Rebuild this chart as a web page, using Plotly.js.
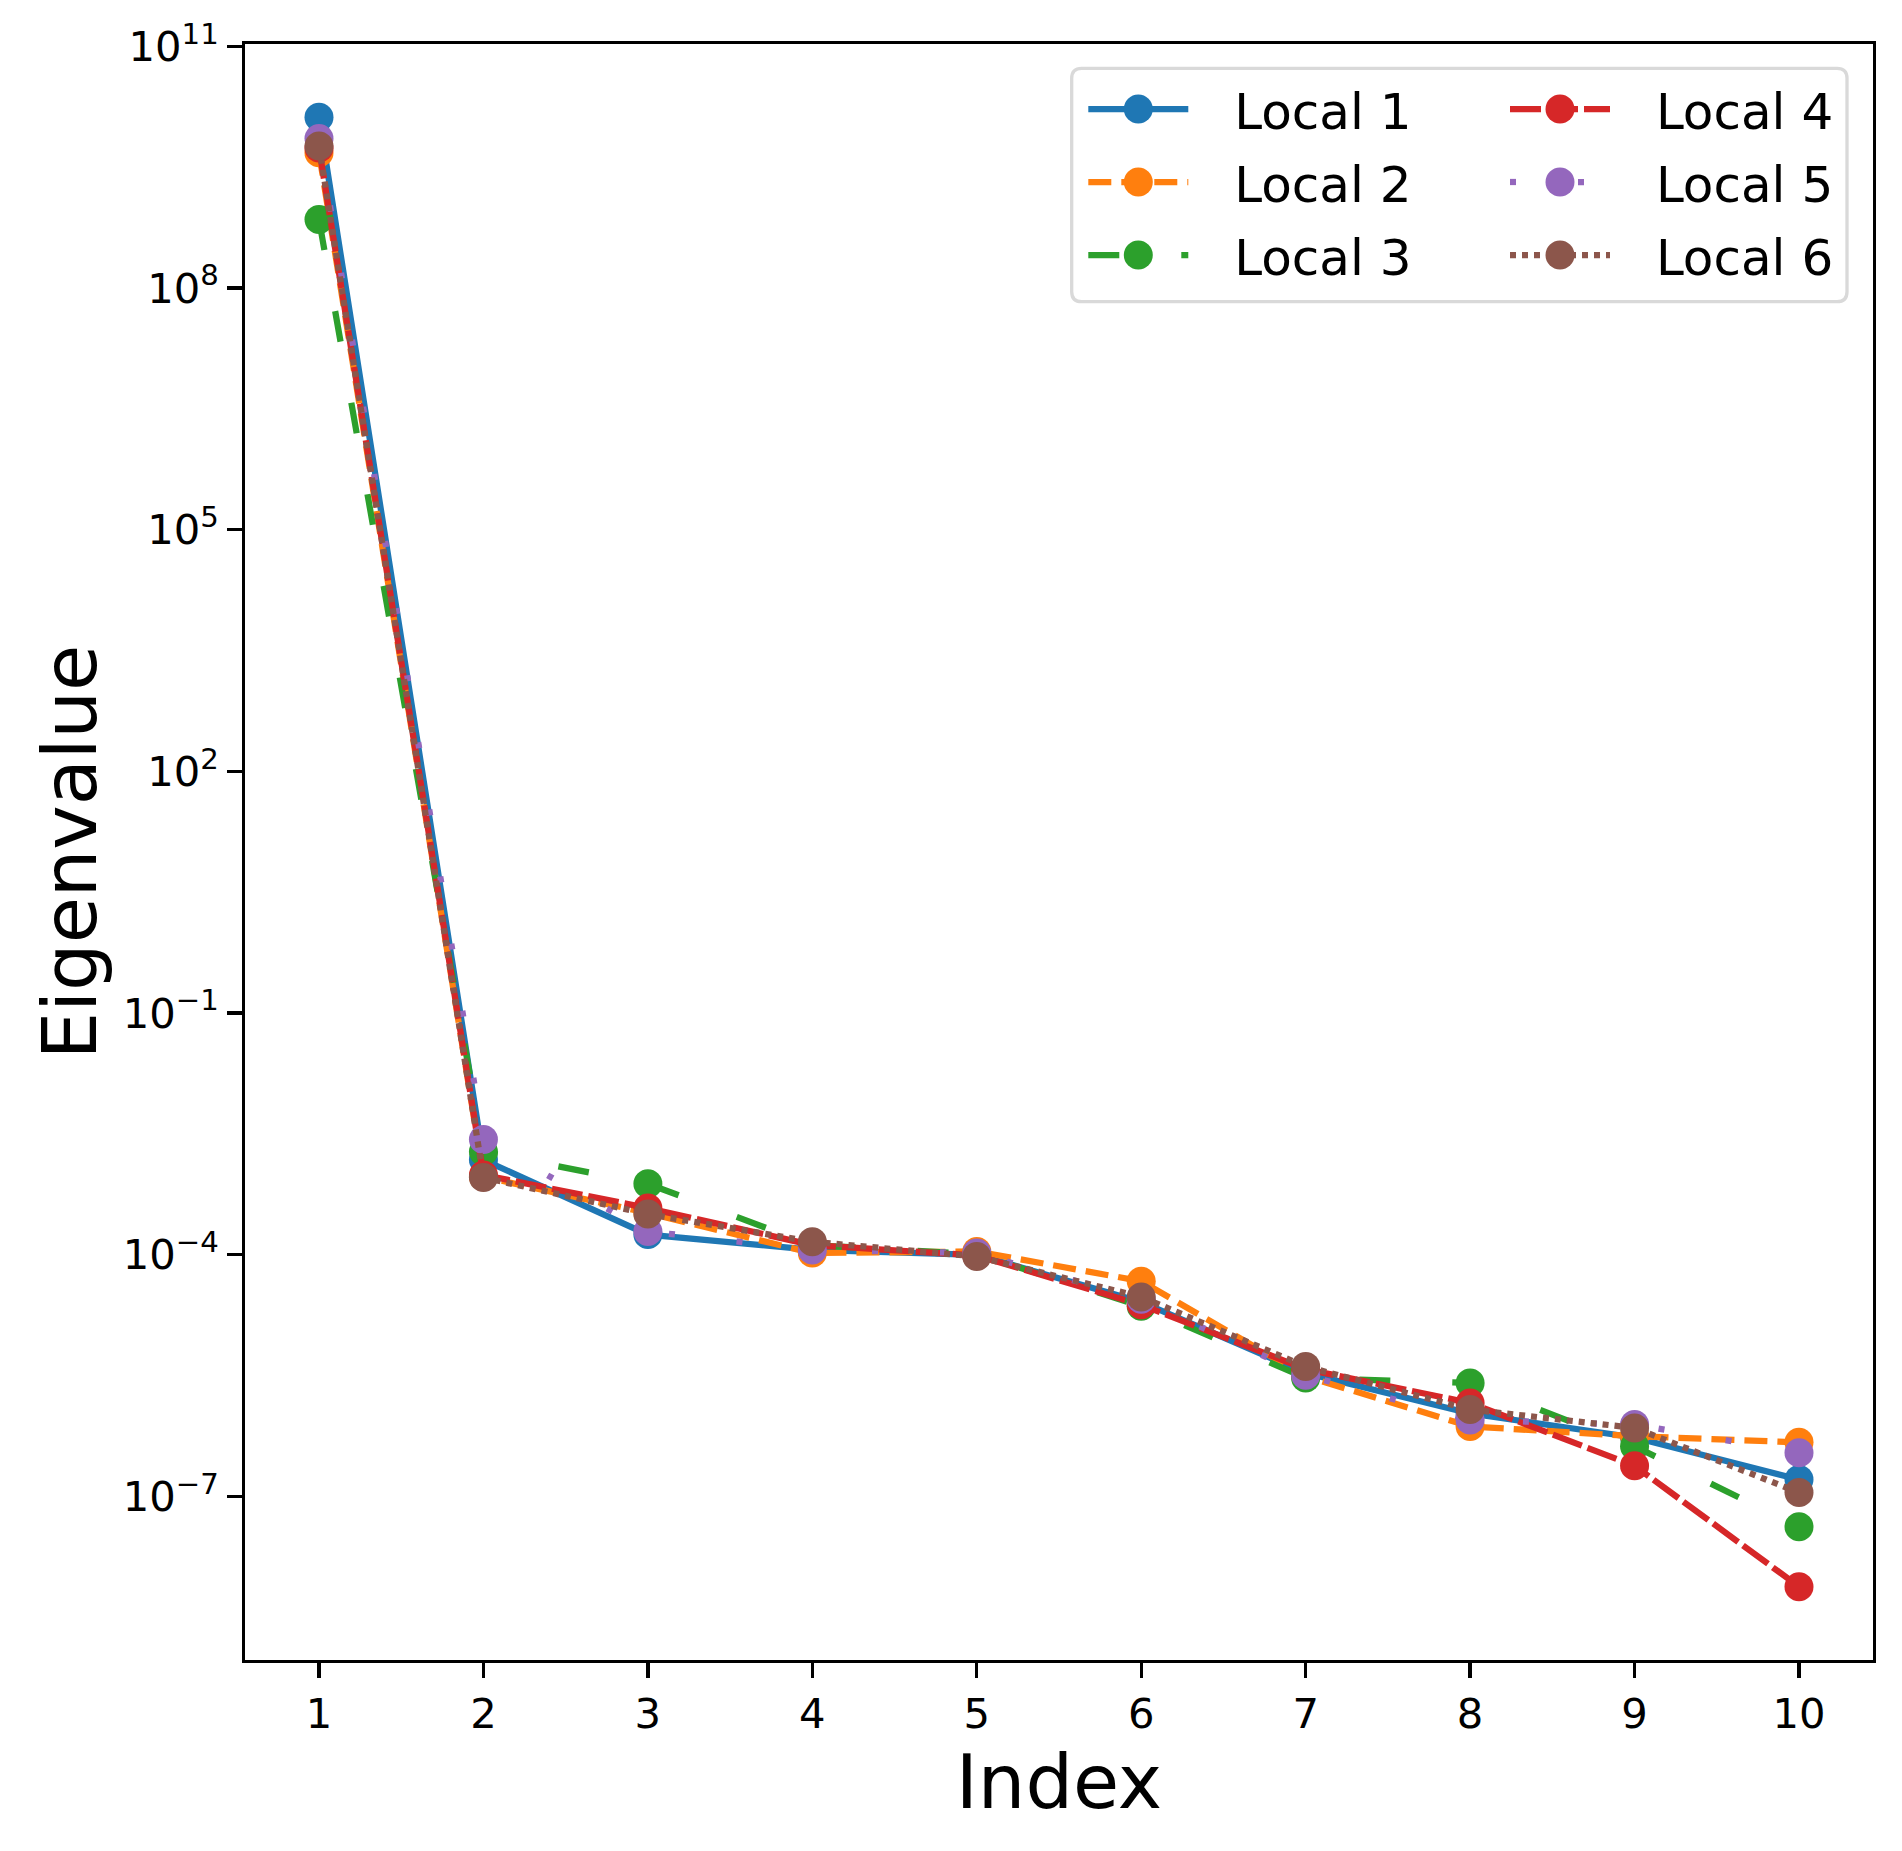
<!DOCTYPE html>
<html>
<head>
<meta charset="utf-8">
<script src="https://cdn.plot.ly/plotly-3.0.1.min.js"></script>
<style>
  html, body { margin: 0; padding: 0; background: #ffffff; }
  #chart { width: 1902px; height: 1851px; }
</style>
</head>
<body>
<div id="chart"></div>
<script>
// ---- data ----
const indices = [1, 2, 3, 4, 5, 6, 7, 8, 9, 10];
const seriesNames = ["Local 1", "Local 2", "Local 3", "Local 4", "Local 5", "Local 6"];
const local1 = [1.32e10, 1.51e-3, 1.78e-4, 1.15e-4, 1.00e-4, 2.6e-5, 3.4e-6, 1.07e-6, 5.4e-7, 1.62e-7];
const local2 = [4.8e9, 9.3e-4, 3.3e-4, 1.05e-4, 1.10e-4, 4.7e-5, 3.1e-6, 7.4e-7, 5.6e-7, 4.7e-7];
const local3 = [7.1e8, 1.9e-3, 7.6e-4, 1.32e-4, 1.02e-4, 2.3e-5, 2.95e-6, 2.57e-6, 4.2e-7, 4.2e-8];
const local4 = [5.5e9, 9.8e-4, 3.8e-4, 1.32e-4, 9.8e-5, 2.4e-5, 3.8e-6, 1.45e-6, 2.4e-7, 7.6e-9];
const local5 = [7.2e9, 2.7e-3, 1.95e-4, 1.15e-4, 1.05e-4, 2.8e-5, 3.2e-6, 8.9e-7, 7.8e-7, 3.5e-7];
const local6 = [5.8e9, 9.1e-4, 3.2e-4, 1.45e-4, 9.5e-5, 3.0e-5, 4.1e-6, 1.2e-6, 7.1e-7, 1.12e-7];
const yTickVals = [1e-7, 1e-4, 1e-1, 1e2, 1e5, 1e8, 1e11];
const yTickText = ["10<sup>−7</sup>", "10<sup>−4</sup>", "10<sup>−1</sup>", "10<sup>2</sup>", "10<sup>5</sup>", "10<sup>8</sup>", "10<sup>11</sup>"];

// ---- styles ----
const colors = ["#1f77b4", "#ff7f0e", "#2ca02c", "#d62728", "#9467bd", "#8c564b"];
const dashes = ["solid", "23px,10px", "31px,62px", "31px,6px", "6px,62px", "6px,6px"];
const legendOf = ["legend", "legend", "legend", "legend2", "legend2", "legend2"];
const allSeries = [local1, local2, local3, local4, local5, local6];
const LABEL_PAD = "\u2002\u00a0"; // widens the gap between legend handle and label, as in matplotlib

const traces = allSeries.map((vals, i) => ({
  type: "scatter",
  mode: "lines+markers",
  name: LABEL_PAD + seriesNames[i],
  x: indices,
  y: vals,
  legend: legendOf[i],
  legendgroup: "g" + i,
  line: { color: colors[i], width: 6.25, dash: dashes[i] },
  marker: { color: colors[i], size: 29, symbol: "circle" }
}));

const font = "DejaVu Sans, Liberation Sans, sans-serif";

// plot area in pixels
const PL = 245, PR = 1873, PT = 44, PB = 1660;
const px2x = x => (x - PL) / (PR - PL);
const px2y = y => 1 - (y - PT) / (PB - PT);

// rounded legend frame (pixel box converted to paper coords)
function roundedBox(x0, y0, x1, y1, r) {
  const X = px2x, Y = px2y;
  return "M" + X(x0 + r) + "," + Y(y0) +
    " L" + X(x1 - r) + "," + Y(y0) +
    " Q" + X(x1) + "," + Y(y0) + " " + X(x1) + "," + Y(y0 + r) +
    " L" + X(x1) + "," + Y(y1 - r) +
    " Q" + X(x1) + "," + Y(y1) + " " + X(x1 - r) + "," + Y(y1) +
    " L" + X(x0 + r) + "," + Y(y1) +
    " Q" + X(x0) + "," + Y(y1) + " " + X(x0) + "," + Y(y1 - r) +
    " L" + X(x0) + "," + Y(y0 + r) +
    " Q" + X(x0) + "," + Y(y0) + " " + X(x0 + r) + "," + Y(y0) + " Z";
}

const legendCommon = {
  orientation: "v",
  xanchor: "left",
  yanchor: "top",
  bgcolor: "rgba(0,0,0,0)",
  borderwidth: 0,
  font: { family: font, size: 50, color: "#000000" },
  itemwidth: 100,
  traceorder: "grouped",
  tracegroupgap: 5
};

const layout = {
  width: 1902,
  height: 1851,
  paper_bgcolor: "#ffffff",
  plot_bgcolor: "#ffffff",
  margin: { l: PL, r: 1902 - PR, t: PT, b: 1851 - PB, pad: 0 },
  font: { family: font, color: "#000000", size: 41.7 },
  showlegend: true,
  legend: Object.assign({}, legendCommon, { x: px2x(1083.3), y: px2y(70) }),
  legend2: Object.assign({}, legendCommon, { x: px2x(1505), y: px2y(70) }),
  shapes: [{
    type: "path",
    xref: "paper", yref: "paper",
    path: roundedBox(1071.7, 68.3, 1847, 301.7, 10),
    fillcolor: "#ffffff",
    line: { color: "#d9d9d9", width: 3.3 },
    layer: "above"
  }],
  xaxis: {
    range: [0.55, 10.45],
    tickmode: "array",
    tickvals: indices,
    ticktext: indices.map(String),
    ticks: "outside",
    ticklen: 14.6,
    tickwidth: 3.3,
    tickcolor: "#000000",
    showline: true,
    linewidth: 3.3,
    linecolor: "#000000",
    mirror: true,
    showgrid: false,
    zeroline: false,
    tickfont: { family: font, size: 41.7, color: "#000000" },
    title: { text: "Index", font: { family: font, size: 75, color: "#000000" }, standoff: 14 },
    automargin: false
  },
  yaxis: {
    type: "log",
    range: [-9.03, 11.03],
    tickmode: "array",
    tickvals: yTickVals,
    ticktext: yTickText,
    ticks: "outside",
    ticklen: 14.6,
    tickwidth: 3.3,
    tickcolor: "#000000",
    showline: true,
    linewidth: 3.3,
    linecolor: "#000000",
    mirror: true,
    showgrid: false,
    zeroline: false,
    tickfont: { family: font, size: 41.7, color: "#000000" },
    title: { text: "Eigenvalue", font: { family: font, size: 75, color: "#000000" }, standoff: 2 },
    automargin: false
  }
};

// legend symbols: full-size markers (Plotly caps legend markers at 16px)
function tuneLegends(gd) {
  const r = 14.5;
  const circle = "M" + r + ",0A" + r + "," + r + " 0 1,1 0,-" + r + "A" + r + "," + r + " 0 0,1 " + r + ",0Z";
  gd.querySelectorAll("g.legendpoints path.scatterpts").forEach(p => p.setAttribute("d", circle));
}

Plotly.newPlot("chart", traces, layout, { displayModeBar: false, staticPlot: true }).then(gd => {
  tuneLegends(gd);
  gd.on("plotly_afterplot", () => tuneLegends(gd));
  [30, 200, 600].forEach(ms => setTimeout(() => tuneLegends(gd), ms));
});
</script>
</body>
</html>
